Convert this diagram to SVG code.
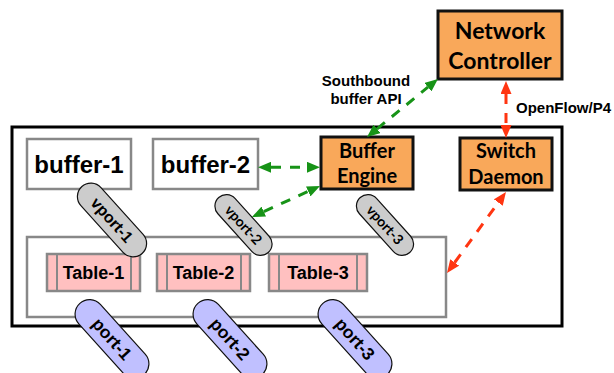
<svg xmlns="http://www.w3.org/2000/svg" width="614" height="373" viewBox="0 0 614 373">
<defs>
<style>
.frame{fill:#fff;stroke:#000;stroke-width:3}
.box{fill:#fff;stroke:#888;stroke-width:2.5}
.orange{fill:#f9a85a;stroke:#111;stroke-width:3}
.tbl{fill:#ffc0c0;stroke:#888;stroke-width:2.5}
.tl{fill:none;stroke:#888;stroke-width:2}
.vp{fill:#cccccc;stroke:#111;stroke-width:1.2}
.pt{fill:#c0c0ff;stroke:#111;stroke-width:1.2}
.h{font-family:"Liberation Sans",Arial,sans-serif;font-weight:bold;fill:#000}
.c{font-family:Lato,"Liberation Sans",sans-serif;font-weight:bold;fill:#000}
.mid{text-anchor:middle}
.g{fill:none;stroke:#179317;stroke-width:3;stroke-dasharray:10 9}
.r{fill:none;stroke:#ff3511;stroke-width:3;stroke-dasharray:10 9}
</style>
<marker id="ag" viewBox="0 0 13 11" refX="0" refY="5.5" markerWidth="13" markerHeight="11" markerUnits="userSpaceOnUse" orient="auto-start-reverse"><path d="M0,0 L13,5.5 L0,11 z" fill="#179317"/></marker>
<marker id="ar" viewBox="0 0 13 11" refX="0" refY="5.5" markerWidth="13" markerHeight="11" markerUnits="userSpaceOnUse" orient="auto-start-reverse"><path d="M0,0 L13,5.5 L0,11 z" fill="#ff3511"/></marker>
</defs>

<g id="switch"><rect class="frame" x="12" y="127" width="550" height="199"/></g>
<g id="pipeline"><rect class="box" x="27" y="237" width="419" height="80"/></g>

<g id="buffer-1"><rect class="box" x="27" y="139" width="104" height="50"/><text class="h mid" x="79" y="173" font-size="24">buffer-1</text></g>
<g id="buffer-2"><rect class="box" x="153" y="139" width="105" height="50"/><text class="h mid" x="205.5" y="173" font-size="24">buffer-2</text></g>

<g id="table-1"><rect class="tbl" x="47" y="254" width="93" height="37"/><path class="tl" d="M57,254V291M131,254V291"/><text class="h mid" x="93.5" y="279" font-size="18">Table-1</text></g>
<g id="table-2"><rect class="tbl" x="157" y="254" width="93" height="37"/><path class="tl" d="M167,254V291M241,254V291"/><text class="h mid" x="203.5" y="279" font-size="18">Table-2</text></g>
<g id="table-3"><rect class="tbl" x="269" y="254" width="98" height="37"/><path class="tl" d="M279,254V291M357,254V291"/><text class="h mid" x="318" y="279" font-size="18">Table-3</text></g>

<g id="buffer-engine"><rect class="orange" x="321" y="137" width="92" height="52"/><text class="c mid" x="367" y="158" font-size="20">Buffer</text><text class="c mid" x="367" y="183" font-size="20">Engine</text></g>
<g id="switch-daemon"><rect class="orange" x="460" y="138" width="92" height="52"/><text class="c mid" x="506" y="158" font-size="20">Switch</text><text class="c mid" x="506" y="184" font-size="20">Daemon</text></g>
<g id="network-controller"><rect class="orange" x="438" y="11" width="124" height="68"/><text class="c mid" x="500" y="39" font-size="23">Network</text><text class="c mid" x="500" y="69" font-size="23">Controller</text></g>

<g id="vport-1" transform="translate(112,220) rotate(48)"><rect class="vp" x="-45" y="-13.5" width="90" height="27" rx="13.5"/><text class="h mid" x="0" y="5.5" font-size="16">vport-1</text></g>
<g id="vport-2" transform="translate(243.5,225) rotate(48)"><rect class="vp" x="-37" y="-11.5" width="74" height="23" rx="11.5"/><text class="c mid" x="0" y="5" font-size="14">vport-2</text></g>
<g id="vport-3" transform="translate(385,225) rotate(48)"><rect class="vp" x="-37" y="-11.5" width="74" height="23" rx="11.5"/><text class="c mid" x="0" y="5" font-size="14">vport-3</text></g>

<g id="port-1" transform="translate(112,339) rotate(48)"><rect class="pt" x="-48" y="-14.5" width="96" height="29" rx="14.5"/><text class="h mid" x="0" y="6" font-size="17.5">port-1</text></g>
<g id="port-2" transform="translate(230,339) rotate(48)"><rect class="pt" x="-48" y="-14.5" width="96" height="29" rx="14.5"/><text class="h mid" x="0" y="6" font-size="17.5">port-2</text></g>
<g id="port-3" transform="translate(355,339) rotate(48)"><rect class="pt" x="-48" y="-14.5" width="96" height="29" rx="14.5"/><text class="h mid" x="0" y="6" font-size="17.5">port-3</text></g>

<g id="connectors">
<path class="g" d="M377.1,128.8L427.9,87.2" marker-start="url(#ag)" marker-end="url(#ag)"/>
<path class="g" d="M271,167.3H307" stroke-dasharray="11 10 15" marker-start="url(#ag)" marker-end="url(#ag)"/>
<path class="g" d="M263.8,211.6L308.2,191.4" marker-start="url(#ag)" marker-end="url(#ag)"/>
<path class="r" d="M506,94V125" stroke-dasharray="10 11 10" marker-start="url(#ar)" marker-end="url(#ar)"/>
<path class="r" d="M454.7,262.5L498.3,202.5" marker-start="url(#ar)" marker-end="url(#ar)"/>
</g>

<g id="labels">
<text class="h mid" x="366" y="86" font-size="15">Southbound</text>
<text class="h mid" x="366" y="104" font-size="15">buffer API</text>
<text class="h" x="516" y="113" font-size="15">OpenFlow/P4</text>
</g>
</svg>
